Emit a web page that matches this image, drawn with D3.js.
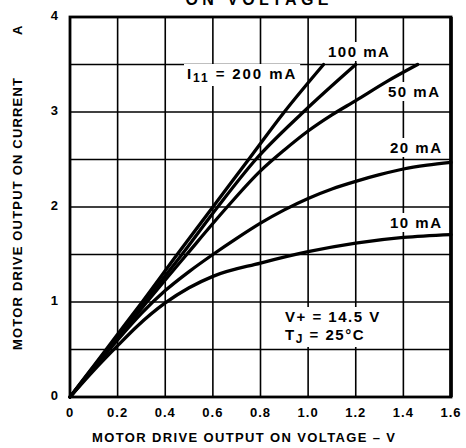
<!DOCTYPE html>
<meta charset="utf-8">
<html>
<head>
  <title>Motor drive output</title>
  <style type="text/css">
    body{margin:0; background:#fff;}
    text{font-family:"Liberation Sans", Arial, sans-serif; font-weight:bold; fill:#000;}
  </style>
</head>
<body>
  <script src="https://cdn.jsdelivr.net/npm/d3@7"></script>
  <script>
    // tick values
    var xTicks = [0, 0.2, 0.4, 0.6, 0.8, 1.0, 1.2, 1.4, 1.6];
    var xTickLabels = ['0', '0.2', '0.4', '0.6', '0.8', '1.0', '1.2', '1.4', '1.6'];
    var yTicks = [0, 1, 2, 3, 4];
    var yGrid = [0.5, 1, 1.5, 2, 2.5, 3, 3.5];

    // curves: [volts, amps]
    var i200 = [[0,0],[0.1,0.33],[0.2,0.66],[0.3,0.99],[0.45,1.5],[0.6,2.0],[0.75,2.5],[0.9,3.0],[1.065,3.5]];
    var i100 = [[0,0],[0.1,0.32],[0.2,0.64],[0.3,0.96],[0.47,1.5],[0.62,2.0],[0.78,2.5],[0.98,3.0],[1.2,3.5]];
    var i50  = [[0,0],[0.1,0.31],[0.2,0.62],[0.3,0.93],[0.49,1.5],[0.66,2.0],[0.8,2.38],[0.9,2.6],[1.0,2.8],[1.1,2.97],[1.2,3.12],[1.33,3.32],[1.46,3.5]];
    var i20  = [[0,0],[0.1,0.3],[0.2,0.6],[0.3,0.88],[0.4,1.12],[0.5,1.32],[0.6,1.5],[0.7,1.67],[0.8,1.83],[0.9,1.97],[1.0,2.09],[1.1,2.19],[1.2,2.27],[1.3,2.34],[1.4,2.4],[1.5,2.44],[1.6,2.47]];
    var i10  = [[0,0],[0.1,0.28],[0.2,0.54],[0.28,0.74],[0.4,0.99],[0.5,1.15],[0.6,1.27],[0.8,1.41],[1.0,1.53],[1.2,1.62],[1.4,1.68],[1.6,1.71]];
    var curves = [i200, i100, i50, i20, i10];

    var width = 466,
        height = 448;

    // plot box (don't call it "top", that's window.top)
    var pL = 70, pR = 451, pT = 17, pB = 397;

    var x = d3.scaleLinear().domain([0, 1.6]).range([pL, pR]);
    var y = d3.scaleLinear().domain([0, 4]).range([pB, pT]);

    var svg = d3.select('body')
        .append('svg')
        .attr('width', width)
        .attr('height', height);

    // grid
    svg.append('g').selectAll('line')
      .data(xTicks.slice(1, -1))
      .enter().append('line')
      .attr('x1', function(d){return x(d)}).attr('x2', function(d){return x(d)})
      .attr('y1', pT).attr('y2', pB)
      .style('stroke', '#000').style('stroke-width', 1.6);

    svg.append('g').selectAll('line')
      .data(yGrid)
      .enter().append('line')
      .attr('y1', function(d){return y(d)}).attr('y2', function(d){return y(d)})
      .attr('x1', pL).attr('x2', pR)
      .style('stroke', '#000').style('stroke-width', 1.6);

    // frame
    svg.append('rect')
      .attr('x', pL).attr('y', pT)
      .attr('width', pR - pL).attr('height', pB - pT)
      .style('fill', 'none').style('stroke', '#000').style('stroke-width', 2.8);
    svg.append('line')
      .attr('x1', pR).attr('x2', pR).attr('y1', pT).attr('y2', pB)
      .style('stroke', '#000').style('stroke-width', 3.6);

    // labels with white boxes that break the grid
    function label(tx, ty, parts, spacing){
      var size = 15;
      var g = svg.append('g');
      var t = g.append('text')
        .attr('x', tx).attr('y', ty)
        .style('font-size', size + 'px')
        .style('letter-spacing', spacing + 'px');
      parts.forEach(function(p){
        var s = t.append('tspan').text(p[0]);
        if(p[1]) s.attr('dy', 3).style('font-size', (size - 3) + 'px');
        if(p[2]) s.attr('dy', -3);
      });
      var b = t.node().getBBox();
      g.insert('rect', 'text')
        .attr('x', b.x - 3).attr('y', b.y - 1)
        .attr('width', b.width + 6).attr('height', b.height + 2)
        .style('fill', '#fff');
    }

    label(328, 57, [['100 mA']], 1.5);
    label(187, 79, [['I'], ['11', true], [' = 200 mA', false, true]], 1.9);
    label(388, 97, [['50 mA']], 1.5);
    label(390, 153, [['20 mA']], 1.5);
    label(390, 228, [['10 mA']], 1.5);
    label(285, 322, [['V+ = 14.5 V']], 1.5);
    label(285, 340, [['T'], ['J', true], [' = 25°C', false, true]], 1.5);

    // curves
    var line = d3.line()
      .x(function(d){return x(d[0])})
      .y(function(d){return y(d[1])})
      .curve(d3.curveMonotoneX);

    svg.append('g').selectAll('path')
      .data(curves)
      .enter().append('path')
      .attr('d', line)
      .style('fill', 'none').style('stroke', '#000')
      .style('stroke-width', 3.3).style('stroke-linecap', 'round');

    // tick labels
    svg.append('g').selectAll('text')
      .data(xTicks)
      .enter().append('text')
      .attr('x', function(d){return x(d)})
      .attr('y', 417)
      .attr('text-anchor', 'middle')
      .style('font-size', '13px').style('letter-spacing', '1px')
      .text(function(d, i){return xTickLabels[i]});

    svg.append('g').selectAll('text')
      .data(yTicks)
      .enter().append('text')
      .attr('x', 58)
      .attr('y', function(d){return y(d) + 3})
      .attr('text-anchor', 'end')
      .style('font-size', '13px')
      .text(function(d){return d});

    // titles
    svg.append('text')
      .attr('x', 257).attr('y', 5)
      .attr('text-anchor', 'middle')
      .style('font-size', '16px')
      .attr('textLength', 143)
      .text('ON VOLTAGE');

    svg.append('text')
      .attr('x', 92).attr('y', 442)
      .style('font-size', '13px')
      .attr('textLength', 303).attr('lengthAdjust', 'spacing')
      .text('MOTOR DRIVE OUTPUT ON VOLTAGE \u2013 V');

    svg.append('text')
      .attr('transform', 'translate(22,350) rotate(-90)')
      .style('font-size', '13px')
      .attr('textLength', 272).attr('lengthAdjust', 'spacing')
      .text('MOTOR DRIVE OUTPUT ON CURRENT');

    svg.append('text')
      .attr('transform', 'translate(22,35) rotate(-90)')
      .style('font-size', '13px')
      .text('A');
  </script>
</body>
</html>
